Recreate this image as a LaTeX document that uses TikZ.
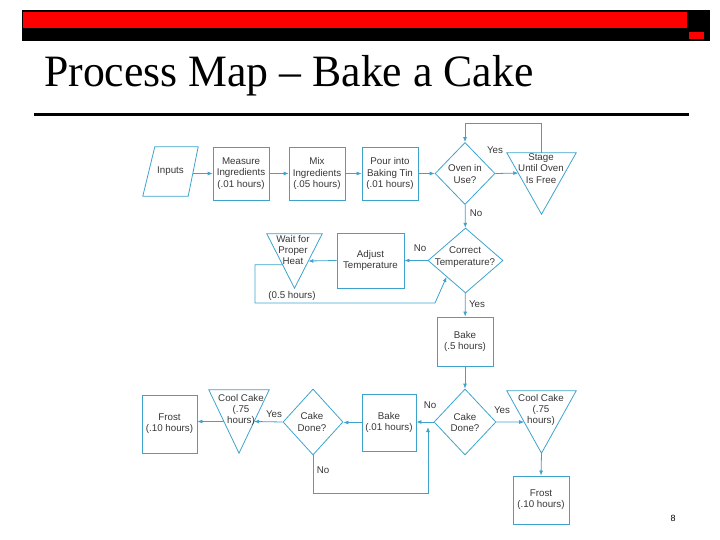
\documentclass[tikz,border=0pt]{standalone}
\usepackage{fontspec}
\setmainfont{Liberation Serif}
\newfontfamily\flowfont{Liberation Sans}
\usetikzlibrary{shapes.geometric,arrows.meta,calc}
\definecolor{flowblue}{RGB}{62,163,204}
\definecolor{flowtext}{RGB}{55,55,55}
\definecolor{slidered}{RGB}{255,0,0}
\begin{document}
\begin{tikzpicture}[x=1bp, y=-1bp,
        flow/.style={draw=flowblue, line width=0.8bp},
        link/.style={flow, -{Latex[length=5bp,width=4bp]}},
        lbl/.style={text=flowtext, font=\flowfont\fontsize{9.8}{11.3}\selectfont, align=center, inner sep=1bp},
        stepbox/.style={lbl, flow, rectangle, minimum width=56bp, minimum height=53bp},
        decision/.style={flow, diamond, inner sep=0pt},
        holdbox/.style={rectangle, inner sep=0pt}]
        \useasboundingbox (0,0) rectangle (720,540);
        \fill[black] (22,10) rectangle (710,41);
        \fill[slidered] (23,12) rectangle (687,28);
        \fill[slidered] (689,32) rectangle (704,39);
        \draw[line width=2.5bp] (34,114.5) -- (689,114.5);
        \node[anchor=base west, inner sep=0pt, font=\fontsize{45}{50}\selectfont] (title) at (44,87) {\scalebox{0.975}[1]{Process Map – Bake a Cake}};
        \node[lbl, holdbox, minimum width=55bp, minimum height=49bp] (inputs) at (170.5,171.5) {Inputs};
        \draw[flow] ($(inputs.north west)+(12,0)$) -- (inputs.north east) -- ($(inputs.south east)+(-10,0)$) -- (inputs.south west) -- cycle;
        \node[stepbox] (measure) at (241,173.5) {Measure\\Ingredients\\(.01 hours)};
        \node[stepbox] (mix) at (317,173.5) {Mix\\Ingredients\\(.05 hours)};
        \node[stepbox] (pour) at (390,173.5) {Pour into\\Baking Tin\\(.01 hours)};
        \node[decision, minimum width=60bp, minimum height=62bp] (oven) at (465,173.5) {};
        \node[lbl] (oven-t) at (465,174) {Oven in\\Use?};
        \node[holdbox, minimum width=69bp, minimum height=61bp] (stage) at (541.5,183.5) {};
        \draw[flow] (stage.north west) -- (stage.north east) -- (stage.south) -- cycle;
        \node[lbl] (stage-t) at (541,168.5) {Stage\\Until Oven\\Is Free};
        \node[decision, minimum width=75bp, minimum height=65bp] (temp) at (465.5,260.5) {};
        \node[lbl] (temp-t) at (465,257) {Correct\\Temperature?};
        \node[stepbox, minimum width=67bp, minimum height=55bp] (adjust) at (370.5,260.5) {Adjust\\Temperature};
        \node[holdbox, minimum width=55bp, minimum height=54bp] (heat) at (294.5,261) {};
        \draw[flow] (heat.north west) -- (heat.north east) -- (heat.south) -- cycle;
        \node[lbl] (heat-t) at (293,250) {Wait for\\Proper\\Heat};
        \node[lbl] (heat-h) at (292,296) {(0.5 hours)};
        \node[stepbox, minimum height=49bp] (bake) at (465,341.5) {Bake\\(.5 hours)};
        \node[decision, minimum width=62bp, minimum height=66bp] (doneA) at (465,422) {};
        \node[lbl] (doneA-t) at (465,422.5) {Cake\\Done?};
        \node[holdbox, minimum width=69bp, minimum height=62bp] (coolA) at (541.5,422) {};
        \draw[flow] (coolA.north west) -- (coolA.north east) -- (coolA.south) -- cycle;
        \node[lbl] (coolA-t) at (541,410) {Cool Cake\\(.75\\hours)};
        \node[stepbox, minimum height=48bp] (frostA) at (541,500) {Frost\\(.10 hours)};
        \node[stepbox, minimum width=54bp, minimum height=57bp] (bakeB) at (389,422.5) {Bake\\(.01 hours)};
        \node[decision, minimum width=60bp, minimum height=66bp] (doneB) at (313,422) {};
        \node[lbl] (doneB-t) at (312,422) {Cake\\Done?};
        \node[holdbox, minimum width=60bp, minimum height=63bp] (coolB) at (239,421.5) {};
        \draw[flow] (coolB.north west) -- (coolB.north east) -- (coolB.south) -- cycle;
        \node[lbl] (coolB-t) at (241,410) {Cool Cake\\(.75\\hours)};
        \node[stepbox, minimum width=55bp, minimum height=58bp] (frostB) at (169.5,424) {Frost\\(.10 hours)};
        \node[lbl] (yes-a) at (495,150) {Yes};
        \node[lbl] (no-a) at (476,213) {No};
        \node[lbl] (no-b) at (420,248) {No};
        \node[lbl] (yes-b) at (477,304) {Yes};
        \node[lbl] (no-c) at (430,405) {No};
        \node[lbl] (yes-c) at (502,410) {Yes};
        \node[lbl] (yes-d) at (274,414) {Yes};
        \node[lbl] (no-d) at (323,470) {No};
        \node[font=\flowfont\fontsize{9}{10}\selectfont] (page) at (673,518) {8};
        \coordinate (inputsr) at ($(inputs.east)+(-5,2)$);
        \coordinate (stagel) at ($(stage.north west)!0.33!(stage.south)$);
        \coordinate (ovenloop) at (465,123);
        \coordinate (heatr) at ($(heat.north east)!0.5!(heat.south)$);
        \coordinate (heatl) at ($(heat.north west)!0.57!(heat.south)$);
        \coordinate (fbA) at (255,303);
        \coordinate (fbB) at (435,303);
        \coordinate (coolAl) at ($(coolA.north west)!0.5!(coolA.south)$);
        \coordinate (coolBr) at ($(coolB.north east)!0.5!(coolB.south)$);
        \coordinate (coolBl) at ($(coolB.north west)!0.5!(coolB.south)$);
        \coordinate (rbA) at (428,493);
        \coordinate (rbB) at (428,427);
        \draw[link] (inputsr) -- (inputsr -| measure.west);
        \draw[link] (measure) -- (mix);
        \draw[link] (mix) -- (pour);
        \draw[link] (pour) -- (oven);
        \draw[link] (oven.east) -- (stagel);
        \draw[link] (stage.north) |- (ovenloop) -- (oven.north);
        \draw[link] (oven) -- (temp);
        \draw[link] (temp) -- (adjust);
        \draw[link] (adjust.west) -- (heatr);
        \draw[link] (heatl) -| (fbA) -- (fbB) -- (temp.south west);
        \draw[link] (temp) -- (bake);
        \draw[link] (bake) -- (doneA);
        \draw[link] (doneA.west) -- (doneA.west -| bakeB.east);
        \draw[link] (doneA.east) -- (coolAl);
        \draw[link] (coolA.south) -- (frostA.north);
        \draw[link] (bakeB.west) -- (bakeB.west -| doneB.east);
        \draw[link] (doneB.west) -- (coolBr);
        \draw[link] (coolBl) -- (coolBl -| frostB.east);
        \draw[link] (doneB.south) |- (rbA) -- (rbB);
    \end{tikzpicture}
\end{document}
